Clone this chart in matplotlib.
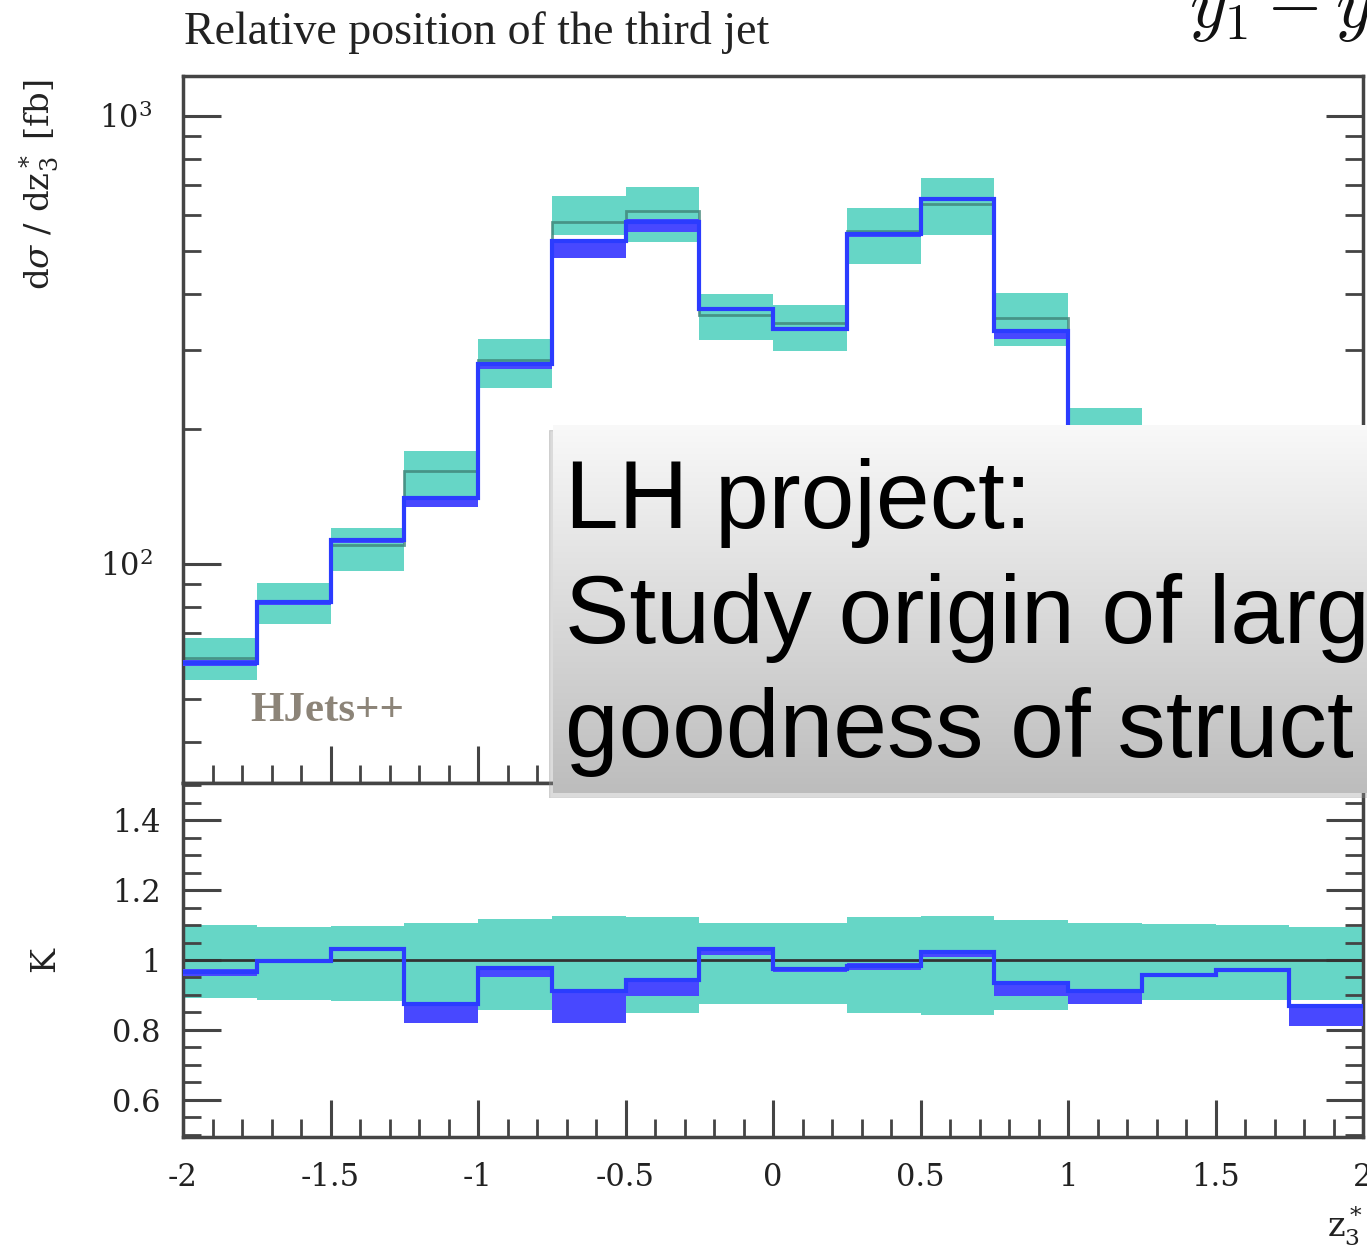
import numpy as np
import matplotlib
matplotlib.use("Agg")
import matplotlib.pyplot as plt
from matplotlib.ticker import FixedLocator, NullFormatter, FixedFormatter
from matplotlib.patches import Rectangle

# ---------------- data ----------------
bin_edges = [-2.0, -1.75, -1.5, -1.25, -1.0, -0.75, -0.5, -0.25, 0.0,
             0.25, 0.5, 0.75, 1.0, 1.25, 1.5, 1.75, 2.0]

# upper panel (fb)
lo_central = [61.6, 82.5, 110, 161, 285, 580, 612, 360, 344, 554, 637, 353, 202, 130, 90, 62]
lo_up      = [68.2, 90.8, 120, 179, 318, 661, 694, 401, 378, 622, 727, 403, 223, 143, 99, 68]
lo_down    = [55.1, 73.5, 96.6, 141, 247, 542, 524, 316, 299, 468, 542, 307, 179, 115, 80, 55]
nlo_central = [60.1, 82.3, 113, 140, 279, 527, 581, 371, 335, 545, 652, 331, 184, 124, 87, 54]
nlo_up      = [61.0, 83.0, 114, 141, 281, 530, 589, 373, 337, 549, 656, 333, 185, 125, 88, 55]
nlo_down    = [59.0, 81.0, 111, 134, 272, 481, 551, 367, 332, 538, 645, 318, 177, 121, 85, 50]

# ratio panel (K)
k_central = [0.967, 0.997, 1.031, 0.874, 0.977, 0.910, 0.943, 1.031, 0.973, 0.983, 1.024, 0.935, 0.912, 0.957, 0.970, 0.869]
k_up      = [0.975, 1.002, 1.036, 0.878, 0.980, 0.912, 0.948, 1.035, 0.976, 0.990, 1.030, 0.937, 0.914, 0.960, 0.973, 0.872]
k_down    = [0.955, 0.990, 1.025, 0.820, 0.950, 0.820, 0.897, 1.015, 0.965, 0.970, 1.010, 0.897, 0.874, 0.950, 0.965, 0.812]
band_up   = [1.100, 1.095, 1.098, 1.107, 1.116, 1.126, 1.124, 1.105, 1.105, 1.124, 1.126, 1.114, 1.105, 1.103, 1.100, 1.095]
band_down = [0.890, 0.886, 0.884, 0.863, 0.857, 0.848, 0.848, 0.874, 0.874, 0.849, 0.843, 0.858, 0.886, 0.886, 0.886, 0.886]

x_ticks = [-2, -1.5, -1, -0.5, 0, 0.5, 1, 1.5, 2]
x_ticklabels = ["-2", "-1.5", "-1", "-0.5", "0", "0.5", "1", "1.5", "2"]
k_ticks = [0.6, 0.8, 1.0, 1.2, 1.4]
k_ticklabels = ["0.6", "0.8", "1", "1.2", "1.4"]

# ---------------- style ----------------
TEAL = "#66d6c6"
BLUE = "#2b3cff"
BLUE_BAND = "#4848ff"
LO_LINE = "#3f8478"
FRAME = "#444444"
SERIF = ["Liberation Serif", "DejaVu Serif"]
TICKFONT = ["DejaVu Serif"]
plt.rcParams["mathtext.fontset"] = "dejavuserif"

W, H = 1367, 1249
fig = plt.figure(figsize=(W / 100, H / 100), dpi=100)

def fx(px):
    return px / W

def fy(py):
    return 1 - py / H

left_px, right_px = 183, 1363
ax1 = fig.add_axes([fx(left_px), fy(783), fx(right_px - left_px), (783 - 76) / H])
ax2 = fig.add_axes([fx(left_px), fy(1137), fx(right_px - left_px), (1137 - 783) / H])

edges = np.array(bin_edges)

# upper panel
ax1.stairs(lo_up, edges, baseline=lo_down, fill=True, color=TEAL, lw=0, zorder=1)
ax1.stairs(lo_central, edges, baseline=None, color=LO_LINE, lw=2.0, alpha=0.8, zorder=2)
ax1.stairs(nlo_up, edges, baseline=nlo_down, fill=True, color=BLUE_BAND, lw=0, zorder=3)
ax1.stairs(nlo_central, edges, baseline=None, color=BLUE, lw=3.0, zorder=4)
ax1.set_yscale("log")
ax1.set_xlim(-2, 2)
ax1.set_ylim(32.4, 1228)

ax1.yaxis.set_major_locator(FixedLocator([100, 1000]))
ax1.yaxis.set_major_formatter(FixedFormatter([r"$10^{2}$", r"$10^{3}$"]))
minor_y = [v * d for d in (10, 100) for v in range(2, 10)]
ax1.yaxis.set_minor_locator(FixedLocator(minor_y))
ax1.yaxis.set_minor_formatter(NullFormatter())
ax1.xaxis.set_major_locator(FixedLocator(x_ticks))
ax1.xaxis.set_minor_locator(FixedLocator(list(np.round(np.arange(-2, 2.001, 0.1), 2))))
ax1.xaxis.set_major_formatter(NullFormatter())
ax1.text(-1.773, 46.8, "HJets++", fontsize=31, fontweight="bold", family=SERIF,
         color="#8c8478", va="center", ha="left", zorder=5)

# lower panel
ax2.stairs(band_up, edges, baseline=band_down, fill=True, color=TEAL, lw=0, zorder=1)
ax2.axhline(1.0, color="#333333", lw=2.0, zorder=2)
ax2.stairs(k_up, edges, baseline=k_down, fill=True, color=BLUE_BAND, lw=0, zorder=3)
ax2.stairs(k_central, edges, baseline=None, color=BLUE, lw=3.0, zorder=4)
ax2.set_xlim(-2, 2)
ax2.set_ylim(0.494, 1.506)
ax2.yaxis.set_major_locator(FixedLocator(k_ticks))
ax2.yaxis.set_major_formatter(FixedFormatter(k_ticklabels))
ax2.yaxis.set_minor_locator(FixedLocator(list(np.round(np.arange(0.5, 1.501, 0.05), 2))))
ax2.xaxis.set_major_locator(FixedLocator(x_ticks))
ax2.xaxis.set_major_formatter(FixedFormatter(x_ticklabels))
ax2.xaxis.set_minor_locator(FixedLocator(list(np.round(np.arange(-2, 2.001, 0.1), 2))))

for ax in (ax1, ax2):
    for s in ax.spines.values():
        s.set_color(FRAME)
        s.set_linewidth(2.5)
    ax.tick_params(which="major", direction="in", length=27, width=2.2, color=FRAME,
                   left=True, right=True, bottom=True, top=False)
    ax.tick_params(which="minor", direction="in", length=13, width=2.0, color=FRAME,
                   left=True, right=True, bottom=True, top=False)
    for lab in ax.get_yticklabels() + ax.get_xticklabels():
        lab.set_family(TICKFONT)
        lab.set_fontsize(22)
        lab.set_color("#222222")

ax1.tick_params(axis="y", which="major", pad=22)
ax2.tick_params(axis="y", which="major", pad=16)
ax2.tick_params(axis="x", which="major", pad=18)

# axis labels
fig.text(fx(40), fy(79), r"d$\sigma$ / d$\mathrm{z}_3^*$ [fb]", rotation=90, ha="center", va="top",
         fontsize=24.5, family=TICKFONT, color="#222222")
fig.text(fx(45), fy(960), "K", rotation=90, ha="center", va="center",
         fontsize=24, family=TICKFONT, color="#222222")
fig.text(fx(1327), fy(1226), r"$\mathrm{z}_3^*$", ha="left", va="center",
         fontsize=24, family=TICKFONT, color="#222222")

# title and cut-off header
fig.text(fx(184), fy(44), "Relative position of the third jet", ha="left", va="baseline",
         fontsize=33, family=SERIF, color="#222222")
fig.text(fx(1189), fy(27), r"$y_1 - y$", ha="left", va="baseline", fontsize=52,
         math_fontfamily="cm", color="#111111")

# overlay box with gradient
bx0, by0, by1 = 553, 425, 793
shadow = fig.add_axes([fx(bx0 - 4), fy(by1 + 5), fx(W - bx0 + 10), (by1 - by0) / H])
shadow.add_patch(Rectangle((0, 0), 1, 1, color="#999999", alpha=0.35))
shadow.set_axis_off()
box = fig.add_axes([fx(bx0), fy(by1), fx(W - bx0 + 10), (by1 - by0) / H])
grad = np.linspace(0.975, 0.74, 256).reshape(-1, 1)
box.imshow(np.dstack([grad, grad, grad]), aspect="auto", extent=(0, 1, 0, 1),
           interpolation="bilinear")
box.set_xlim(0, 1)
box.set_ylim(0, 1)
box.set_axis_off()
box_lines = ["LH project:", "Study origin of larg", "goodness of struct"]
baselines = [528, 643, 757]
for txt, b in zip(box_lines, baselines):
    box.text(12 / (W - bx0 + 10), 1 - (b - by0) / (by1 - by0), txt, ha="left",
             va="baseline", fontsize=69.5, family=["Liberation Sans", "DejaVu Sans"],
             color="black")

fig.savefig("out.png", dpi=100)
